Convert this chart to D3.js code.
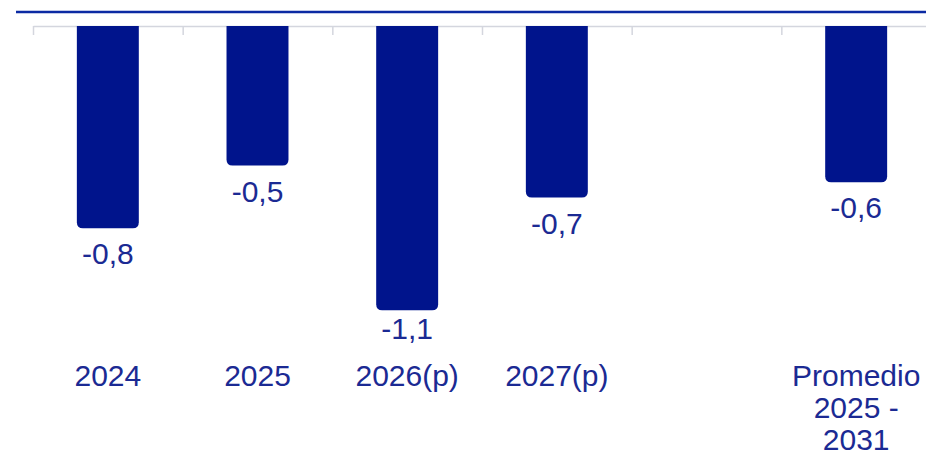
<!DOCTYPE html>
<html>
<head>
<meta charset="utf-8">
<script src="https://cdn.jsdelivr.net/npm/d3@7"></script>
<style>
  html, body { margin: 0; padding: 0; background: #ffffff; overflow: hidden; }
  svg { display: block; }
</style>
</head>
<body>
<svg id="chart" width="926" height="456"></svg>
<script>
// ---- data ----
const categories = ["2024", "2025", "2026(p)", "2027(p)", "", "Promedio 2025 - 2031"];
const categoryLines = [["2024"], ["2025"], ["2026(p)"], ["2027(p)"], [], ["Promedio", "2025 -", "2031"]];
const values = [-0.79, -0.545, -1.11, -0.67, null, -0.61];

// ---- layout ----
const W = 926, H = 456;
const svg = d3.select("#chart");
const barColor = "#00148c";
const textColor = "#1b2a93";
const keys = categories.map((c, i) => "k" + i);

const x = d3.scaleBand().domain(keys).range([33, 931]).paddingInner(0.586).paddingOuter(0.293);
const xIdx = d3.scaleLinear().domain([0, categories.length]).range([33, 931]);
const y = d3.scaleLinear().domain([0, -1]).range([26, 282]);

const fmt = d3.formatLocale({decimal: ",", thousands: ".", grouping: [3], currency: ["", ""], minus: "-"}).format(".1f");

// top blue rule
svg.append("line")
  .attr("x1", 16).attr("x2", W).attr("y1", 12).attr("y2", 12)
  .attr("stroke", "#0b2aa3").attr("stroke-width", 2.5);

// category axis with boundary ticks
const axis = svg.append("g").attr("transform", `translate(0,${y(0)})`)
  .call(d3.axisBottom(xIdx).tickValues(d3.range(categories.length + 1)).tickSizeInner(9).tickSizeOuter(0).tickFormat(""));
axis.select(".domain").attr("stroke", "#d4d6de").attr("stroke-width", 1.5);
axis.selectAll(".tick line").attr("stroke", "#d4d6de").attr("stroke-width", 1.5);

// bars with rounded bottom corners
const data = categories.map((c, i) => ({key: keys[i], cat: c, lines: categoryLines[i], v: values[i]}));
const r = 6;
svg.append("g").selectAll("path")
  .data(data.filter(d => d.v !== null))
  .join("path")
  .attr("fill", barColor)
  .attr("d", d => {
    const x0 = x(d.key), x1 = x0 + x.bandwidth();
    const y0 = y(0), y1 = y(d.v);
    return `M${x0},${y0}H${x1}V${y1 - r}Q${x1},${y1} ${x1 - r},${y1}H${x0 + r}Q${x0},${y1} ${x0},${y1 - r}Z`;
  });

// value labels
svg.append("g").selectAll("text")
  .data(data.filter(d => d.v !== null))
  .join("text")
  .attr("x", d => x(d.key) + x.bandwidth() / 2)
  .attr("y", d => Math.min(y(d.v) + 36, 339))
  .attr("text-anchor", "middle")
  .attr("font-family", "Liberation Sans, Arial, sans-serif")
  .attr("font-size", 30)
  .attr("fill", textColor)
  .text(d => fmt(d.v));

// category labels
const cl = svg.append("g").selectAll("text")
  .data(data)
  .join("text")
  .attr("x", d => x(d.key) + x.bandwidth() / 2)
  .attr("y", 386)
  .attr("text-anchor", "middle")
  .attr("font-family", "Liberation Sans, Arial, sans-serif")
  .attr("font-size", 30)
  .attr("fill", textColor);
cl.selectAll("tspan")
  .data(d => d.lines.map(l => ({l, x: x(d.key) + x.bandwidth() / 2})))
  .join("tspan")
  .attr("x", t => t.x)
  .attr("dy", (t, i) => i === 0 ? 0 : 32)
  .text(t => t.l);
</script>
</body>
</html>
